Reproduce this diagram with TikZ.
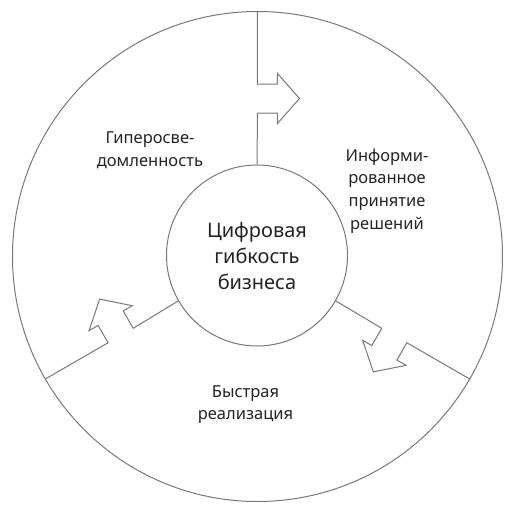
\documentclass[tikz,border=0pt]{standalone}
\usepackage{fontspec}
\setmainfont{Noto Sans}
\usetikzlibrary{calc}
\definecolor{linegray}{RGB}{120,120,120}
\definecolor{textgray}{RGB}{35,35,35}
\tikzset{
  ring/.style={circle, draw=linegray, line width=1pt, inner sep=0pt},
  divider/.style={draw=linegray, line width=1pt, line join=miter},
  lbl/.style={align=center, text=textgray, font=\fontsize{16.5}{22.7}\selectfont},
  core/.style={ring, align=center, text=textgray, font=\fontsize{20}{26}\selectfont, minimum size=181pt}
}
\begin{document}
\begin{tikzpicture}[x=1pt,y=1pt]
\useasboundingbox (-257.5,-255.5) rectangle (257.5,256.5);
\coordinate (c) at (0,0);
\node[ring, minimum size=490pt] (outer) at (0,0) {};
\node[core] (inner) at (-0.5,1) {Цифровая\\гибкость\\бизнеса};
\foreach \a in {90,210,330}{
  \draw[divider] (outer.\a)
    -- ($(c)+(\a:172.5)$)
    -- ($(c)+(\a:172.5)+(\a-90:20)$)
    -- ($(c)+(\a:183)+(\a-90:20)$)
    -- ($(c)+(\a:158)+(\a-90:42)$)
    -- ($(c)+(\a:133)+(\a-90:20)$)
    -- ($(c)+(\a:143.5)+(\a-90:20)$)
    -- ($(c)+(\a:143.5)$)
    -- (inner.\a);
}
\node[lbl] (hyper) at (-107.5,106) {Гиперосве-\\домленность};
\node[lbl] (inform) at (129.5,65.5) {Информи-\\рованное\\принятие\\решений};
\node[lbl] (fast) at (-12,-148) {Быстрая\\реализация};
\end{tikzpicture}
\end{document}
